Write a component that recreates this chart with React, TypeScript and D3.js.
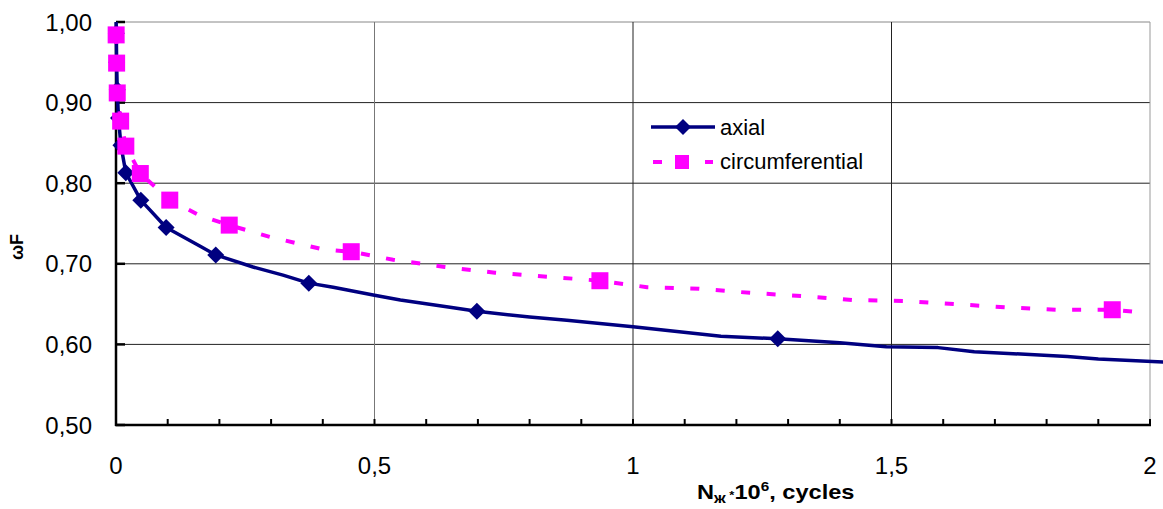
import React from "react";
import * as d3 from "d3";

const axialLineX = [0, 0.0003, 0.0006, 0.0012, 0.0024, 0.0048, 0.0095, 0.019, 0.048, 0.097, 0.162, 0.193, 0.265, 0.323, 0.373, 0.42, 0.5, 0.55, 0.646, 0.698, 0.8, 0.872, 1.0, 1.17, 1.28, 1.4, 1.49, 1.59, 1.66, 1.84, 1.9, 2.03];
const axialLineY = [1.0, 0.999, 0.986, 0.95, 0.916, 0.881, 0.847, 0.813, 0.779, 0.745, 0.722, 0.711, 0.696, 0.686, 0.676, 0.671, 0.661, 0.655, 0.646, 0.641, 0.634, 0.63, 0.622, 0.61, 0.607, 0.602, 0.597, 0.596, 0.591, 0.585, 0.582, 0.578];
const axialMarkX = [0.0006, 0.0012, 0.0024, 0.0048, 0.0095, 0.019, 0.048, 0.097, 0.193, 0.373, 0.698, 1.28];
const axialMarkY = [0.986, 0.95, 0.916, 0.881, 0.847, 0.813, 0.779, 0.745, 0.711, 0.676, 0.641, 0.607];

const circLineX = [0.0003, 0.0012, 0.0024, 0.009, 0.019, 0.047, 0.104, 0.162, 0.219, 0.3, 0.4, 0.455, 0.536, 0.636, 0.733, 0.834, 0.936, 1.027, 1.128, 1.226, 1.327, 1.424, 1.522, 1.623, 1.721, 1.82, 1.927, 1.995];
const circLineY = [0.984, 0.949, 0.912, 0.877, 0.846, 0.812, 0.779, 0.76, 0.748, 0.733, 0.718, 0.715, 0.705, 0.696, 0.689, 0.684, 0.679, 0.671, 0.669, 0.664, 0.66, 0.655, 0.654, 0.65, 0.646, 0.643, 0.643, 0.639];
const circMarkX = [0.0003, 0.0012, 0.0024, 0.009, 0.019, 0.047, 0.104, 0.219, 0.455, 0.936, 1.927];
const circMarkY = [0.984, 0.949, 0.912, 0.877, 0.846, 0.812, 0.779, 0.748, 0.715, 0.679, 0.643];

const yTicks = [0.5, 0.6, 0.7, 0.8, 0.9, 1.0];
const yTickLabels = ["0,50", "0,60", "0,70", "0,80", "0,90", "1,00"];
const xTicks = [0, 0.5, 1, 1.5, 2];
const xTickLabels = ["0", "0,5", "1", "1,5", "2"];
const xMinorTicks = d3.range(0, 21).map((i) => i / 10);

const seriesNames = ["axial", "circumferential"];

const NAVY = "#000080";
const PINK = "#FF00FF";
const FONT = "'Liberation Sans', Arial, sans-serif";

export default function App() {
  const W = 1163, H = 509;
  const x = d3.scaleLinear().domain([0, 2]).range([116, 1150]);
  const y = d3.scaleLinear().domain([0.5, 1.0]).range([425, 22]);
  const [x0, x1] = x.range();
  const [y0, y1] = y.range();

  const line = d3.line<[number, number]>().x((d) => x(d[0])).y((d) => y(d[1]));
  const axialPts: [number, number][] = axialLineX.map((v, i) => [v, axialLineY[i]]);
  const circPts: [number, number][] = circLineX.map((v, i) => [v, circLineY[i]]);

  const diamond = (cx: number, cy: number, r: number) =>
    `M${cx},${cy - r}L${cx + r},${cy}L${cx},${cy + r}L${cx - r},${cy}Z`;

  return (
    <svg width={W} height={H} style={{ position: "absolute", left: 0, top: 0, background: "#fff" }} fontFamily={FONT}>
      {/* horizontal gridlines */}
      {yTicks.slice(1).map((t) => (
        <line key={"hg" + t} x1={x0} x2={x1} y1={y(t)} y2={y(t)} stroke={t === 1.0 ? "#888" : "#222"} strokeWidth={1} />
      ))}
      {/* vertical gridlines */}
      {xTicks.slice(1).map((t) => (
        <line key={"vg" + t} x1={x(t)} x2={x(t)} y1={y1} y2={y0} stroke={t === 2 ? "#999" : t === 0.5 ? "#777" : "#222"} strokeWidth={1} />
      ))}
      {/* axes */}
      <line x1={x0} x2={x0} y1={y1} y2={y0 + 1} stroke="#000" strokeWidth={2.5} />
      <line x1={x0 - 1} x2={x1 + 1} y1={y0} y2={y0} stroke="#000" strokeWidth={2.5} />
      {yTicks.map((t) => (
        <line key={"yt" + t} x1={x0} x2={x0 + 9} y1={y(t)} y2={y(t)} stroke="#000" strokeWidth={2.5} />
      ))}
      {xMinorTicks.map((t) => (
        <line key={"xt" + t} x1={x(t)} x2={x(t)} y1={y0} y2={y0 - 6} stroke="#000" strokeWidth={2} />
      ))}
      {/* tick labels */}
      {yTicks.map((t, i) => (
        <text key={"yl" + t} x={92} y={y(t)} dy="0.36em" textAnchor="end" fontSize={24} fill="#000">
          {yTickLabels[i]}
        </text>
      ))}
      {xTicks.map((t, i) => (
        <text key={"xl" + t} x={x(t)} y={474} textAnchor="middle" fontSize={24} fill="#000">
          {xTickLabels[i]}
        </text>
      ))}
      {/* axis titles */}
      <text transform="translate(697,499) scale(1.18,1)" fontSize={20} fontWeight="bold" fill="#000">
        <tspan>N</tspan>
        <tspan fontSize={14} dy={4}>ж</tspan>
        <tspan fontSize={11} dy={-4}> *</tspan>
        <tspan>10</tspan>
        <tspan fontSize={13} dy={-8}>6</tspan>
        <tspan dy={8}>, cycles</tspan>
      </text>
      <text transform="translate(23,247) rotate(-90)" textAnchor="middle" fontSize={18} fontWeight="bold" fill="#000">
        ωF
      </text>
      {/* axial series */}
      <path d={line(axialPts) || ""} fill="none" stroke={NAVY} strokeWidth={3.5} strokeLinejoin="round" />
      {axialMarkX.map((v, i) => (
        <path key={"am" + i} d={diamond(x(v), y(axialMarkY[i]), 8.5)} fill={NAVY} />
      ))}
      {/* circumferential series */}
      <path d={line(circPts) || ""} fill="none" stroke={PINK} strokeWidth={4} strokeDasharray="9,16.5" />
      {circMarkX.map((v, i) => (
        <rect key={"cm" + i} x={x(v) - 8.5} y={y(circMarkY[i]) - 8.5} width={17} height={17} fill={PINK} />
      ))}
      {/* legend */}
      <g>
        <line x1={651} x2={715} y1={127} y2={127} stroke={NAVY} strokeWidth={3.5} />
        <path d={diamond(683, 127, 8)} fill={NAVY} />
        <text x={720} y={135} fontSize={22} fill="#000">{seriesNames[0]}</text>
        <line x1={653} x2={662} y1={162} y2={162} stroke={PINK} strokeWidth={4} />
        <rect x={675} y={155} width={14} height={14} fill={PINK} />
        <line x1={705} x2={713} y1={162} y2={162} stroke={PINK} strokeWidth={4} />
        <text x={720} y={169} fontSize={22} fill="#000">{seriesNames[1]}</text>
      </g>
    </svg>
  );
}
